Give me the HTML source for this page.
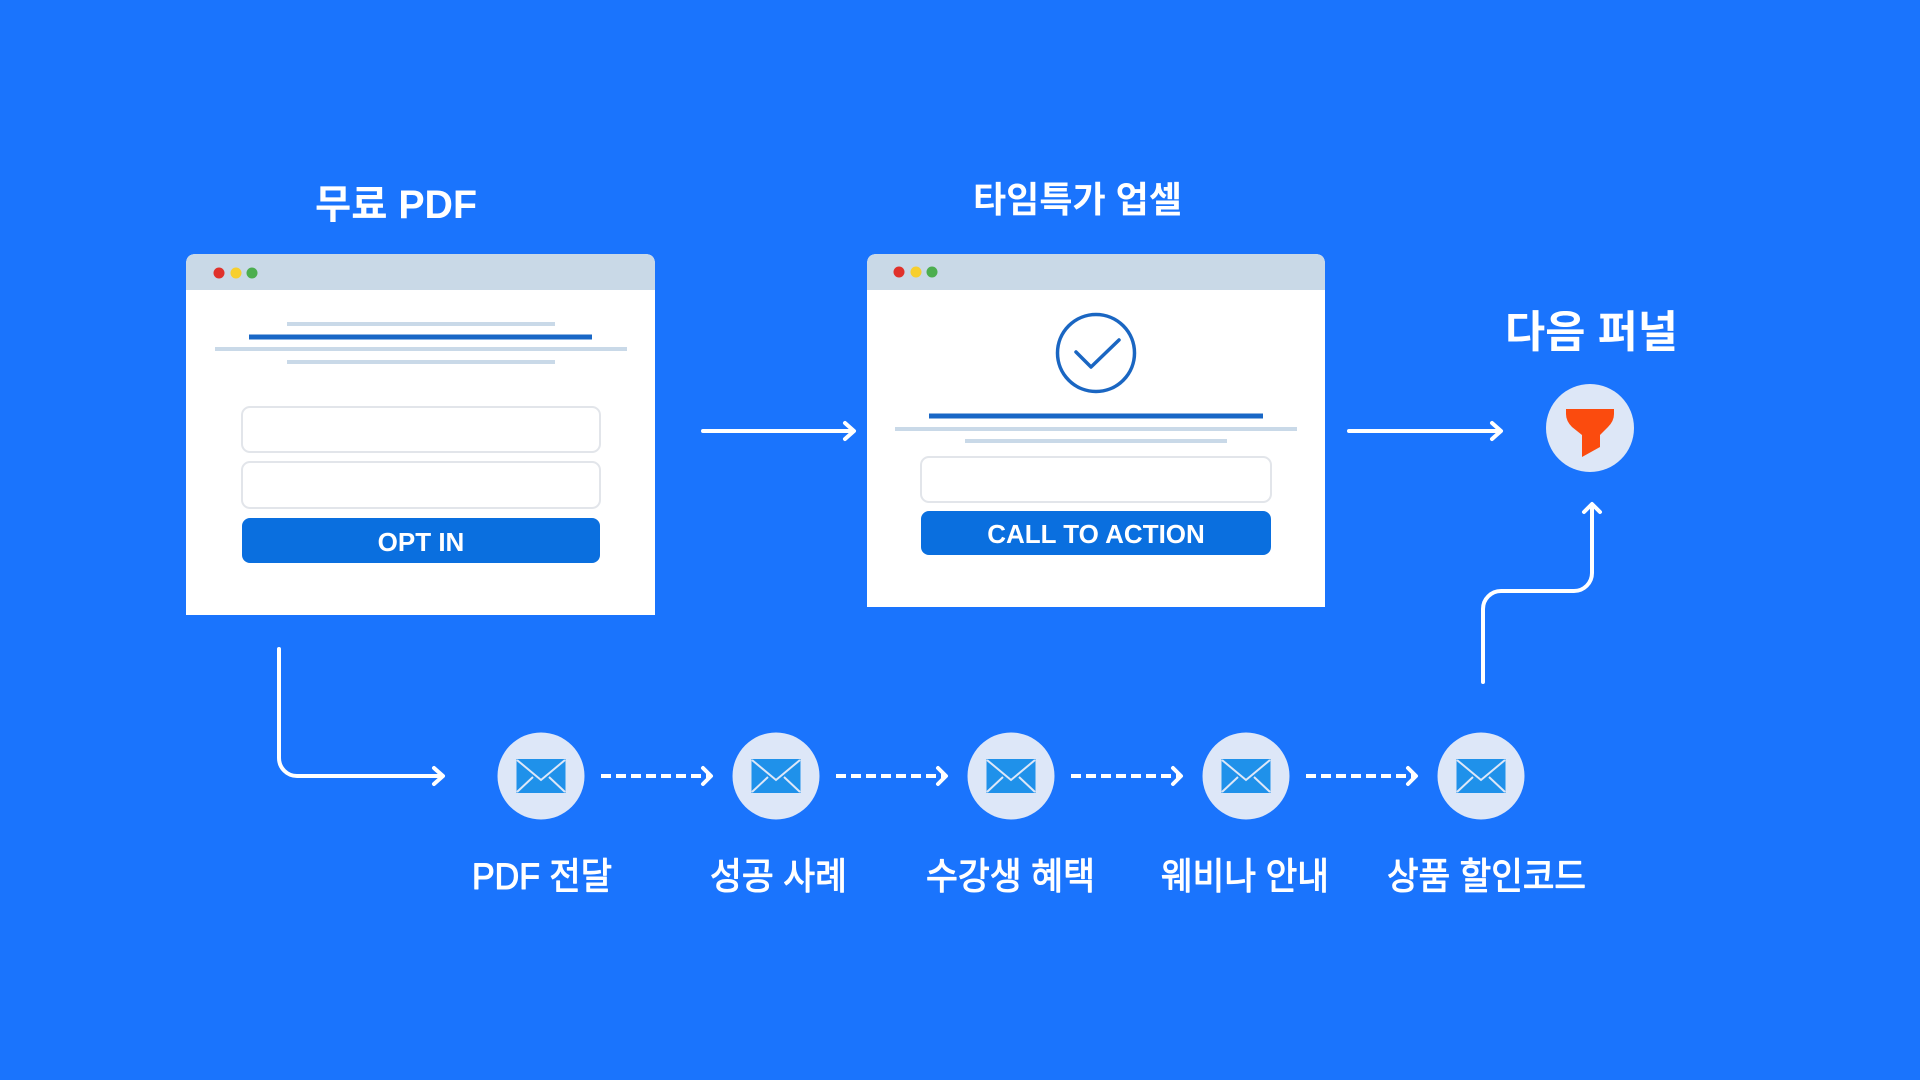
<!DOCTYPE html>
<html>
<head>
<meta charset="utf-8">
<style>
html,body{margin:0;padding:0;width:1920px;height:1080px;overflow:hidden;background:#1a74fd;}
svg{display:block;}
text{font-family:"Liberation Sans","Noto Sans CJK KR",sans-serif;}
</style>
</head>
<body>
<svg width="1920" height="1080" viewBox="0 0 1920 1080" xmlns="http://www.w3.org/2000/svg">
  <rect x="0" y="0" width="1920" height="1080" fill="#1a74fd"/>

  <!-- Titles -->
  <text x="315" y="218" font-size="40" font-weight="700" fill="#fff" textLength="162" lengthAdjust="spacingAndGlyphs">무료 PDF</text>
  <text x="973" y="212" font-size="36" font-weight="700" fill="#fff" textLength="209" lengthAdjust="spacingAndGlyphs">타임특가 업셀</text>
  <text x="1505" y="347" font-size="44" font-weight="700" fill="#fff" textLength="173" lengthAdjust="spacingAndGlyphs">다음 퍼널</text>

  <!-- Window 1 -->
  <path d="M186 264 Q186 254 196 254 H645 Q655 254 655 264 V615 H186 Z" fill="#ffffff"/>
  <path d="M186 264 Q186 254 196 254 H645 Q655 254 655 264 V290 H186 Z" fill="#c9d9e7"/>
  <circle cx="219" cy="273" r="5.5" fill="#e0312b"/>
  <circle cx="236" cy="273" r="5.5" fill="#f7cf2e"/>
  <circle cx="252" cy="273" r="5.5" fill="#4cae4f"/>
  <rect x="287" y="322" width="268" height="4" fill="#c9d9e8"/>
  <rect x="249" y="334.5" width="343" height="5" fill="#1967c6"/>
  <rect x="215" y="347" width="412" height="4" fill="#c9d9e8"/>
  <rect x="287" y="360" width="268" height="4" fill="#c9d9e8"/>
  <rect x="242" y="407" width="358" height="45" rx="8" fill="#fff" stroke="#e2e5ea" stroke-width="2"/>
  <rect x="242" y="462" width="358" height="46" rx="8" fill="#fff" stroke="#e2e5ea" stroke-width="2"/>
  <rect x="242" y="518" width="358" height="45" rx="8" fill="#0a6fdf"/>
  <text x="421" y="551" font-size="26" font-weight="700" fill="#fff" text-anchor="middle">OPT IN</text>

  <!-- Window 2 -->
  <path d="M867 264 Q867 254 877 254 H1315 Q1325 254 1325 264 V607 H867 Z" fill="#ffffff"/>
  <path d="M867 264 Q867 254 877 254 H1315 Q1325 254 1325 264 V290 H867 Z" fill="#c9d9e7"/>
  <circle cx="899" cy="272" r="5.5" fill="#e0312b"/>
  <circle cx="916" cy="272" r="5.5" fill="#f7cf2e"/>
  <circle cx="932" cy="272" r="5.5" fill="#4cae4f"/>
  <circle cx="1096" cy="353" r="38.5" fill="none" stroke="#1a66c2" stroke-width="3.5"/>
  <path d="M1076 352 L1091 367 L1119 340" fill="none" stroke="#1a66c2" stroke-width="3.5" stroke-linecap="round" stroke-linejoin="round"/>
  <rect x="929" y="413.5" width="334" height="5" fill="#1967c6"/>
  <rect x="895" y="427" width="402" height="4" fill="#c9d9e8"/>
  <rect x="965" y="439" width="262" height="4" fill="#c9d9e8"/>
  <rect x="921" y="457" width="350" height="45" rx="8" fill="#fff" stroke="#e2e5ea" stroke-width="2"/>
  <rect x="921" y="511" width="350" height="44" rx="8" fill="#0a6fdf"/>
  <text x="1096" y="543" font-size="26" font-weight="700" fill="#fff" text-anchor="middle">CALL TO ACTION</text>

  <!-- Solid arrows -->
  <g fill="none" stroke="#ffffff" stroke-width="4" stroke-linecap="round" stroke-linejoin="round">
    <path d="M703 431 H853"/>
    <path d="M845 423 L854 431 L845 439"/>
    <path d="M1349 431 H1500"/>
    <path d="M1492 423 L1501 431 L1492 439"/>
    <path d="M279 649 V758 A18 18 0 0 0 297 776 H442"/>
    <path d="M434 768 L443 776 L434 784"/>
    <path d="M1483 682 V609 A18 18 0 0 1 1501 591 H1574 A18 18 0 0 0 1592 573 V505"/>
    <path d="M1584 512 L1592 504 L1600 512"/>
  </g>

  <!-- Funnel node -->
  <circle cx="1590" cy="428" r="44" fill="#dde7f7"/>
  <path d="M1566 409 H1614 V414 Q1614 421 1608 427 L1600 435 V447 L1582 457 V435 L1572 427 Q1566 421 1566 414 Z" fill="#fb4b0e"/>

  <!-- Dashed arrows -->
  <g fill="none" stroke="#ffffff" stroke-width="4" stroke-linejoin="round">
    <path d="M601 776 H708" stroke-dasharray="10 5"/>
    <path d="M703 768 L711 776 L703 784" stroke-linecap="round"/>
    <path d="M836 776 H943" stroke-dasharray="10 5"/>
    <path d="M938 768 L946 776 L938 784" stroke-linecap="round"/>
    <path d="M1071 776 H1178" stroke-dasharray="10 5"/>
    <path d="M1173 768 L1181 776 L1173 784" stroke-linecap="round"/>
    <path d="M1306 776 H1413" stroke-dasharray="10 5"/>
    <path d="M1408 768 L1416 776 L1408 784" stroke-linecap="round"/>
  </g>

  <!-- Email nodes -->
  <g>
    <circle cx="541" cy="776" r="43.5" fill="#dde7f8"/>
    <circle cx="776" cy="776" r="43.5" fill="#dde7f8"/>
    <circle cx="1011" cy="776" r="43.5" fill="#dde7f8"/>
    <circle cx="1246" cy="776" r="43.5" fill="#dde7f8"/>
    <circle cx="1481" cy="776" r="43.5" fill="#dde7f8"/>
  </g>
  <g id="env">
    <rect x="516.5" y="759" width="49" height="34" fill="#1f91ea"/>
    <path d="M517 760 L541 780 L565 760 M517 792 L533 777 M565 792 L549 777" fill="none" stroke="#dde7f8" stroke-width="2"/>
  </g>
  <use href="#env" x="235"/>
  <use href="#env" x="470"/>
  <use href="#env" x="705"/>
  <use href="#env" x="940"/>

  <!-- Labels -->
  <g font-size="37" font-weight="400" fill="#ffffff" stroke="#ffffff" stroke-width="1.1" stroke-linejoin="round">
    <text x="472" y="889" textLength="140" lengthAdjust="spacingAndGlyphs">PDF 전달</text>
    <text x="710" y="889" textLength="137" lengthAdjust="spacingAndGlyphs">성공 사례</text>
    <text x="926" y="889" textLength="169" lengthAdjust="spacingAndGlyphs">수강생 혜택</text>
    <text x="1161" y="889" textLength="168" lengthAdjust="spacingAndGlyphs">웨비나 안내</text>
    <text x="1387" y="889" textLength="199" lengthAdjust="spacingAndGlyphs">상품 할인코드</text>
  </g>
</svg>
</body>
</html>
